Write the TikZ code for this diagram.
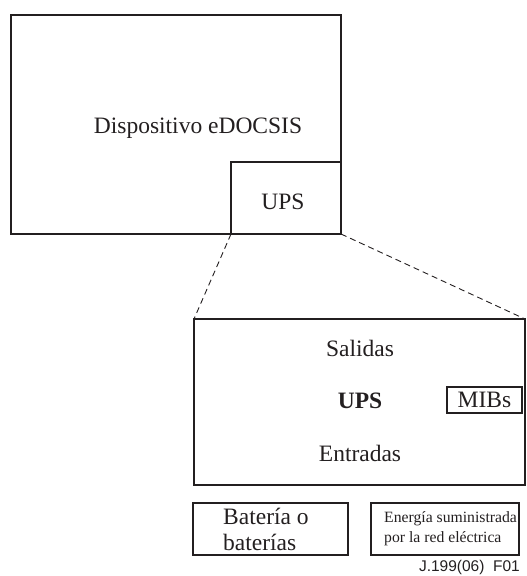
\documentclass[tikz,border=0pt]{standalone}
\usepackage{fontspec}
\setmainfont{Liberation Serif}
\newfontfamily\labfont{Liberation Sans}
\definecolor{ink}{RGB}{35,31,32}
\begin{document}
\begin{tikzpicture}[x=1pt,y=-1pt,
  boxst/.style={draw=ink, line width=2.4pt, rectangle, inner sep=0pt, outer sep=0pt, anchor=north west},
  txt/.style={text=ink, font=\fontsize{23.5}{26}\selectfont, inner sep=0pt},
  small/.style={text=ink, font=\fontsize{15.7}{20}\selectfont, inner sep=0pt, align=left},
  zoomline/.style={draw=ink, line width=0.9pt, dash pattern=on 6pt off 4pt}]
\useasboundingbox (0,0) rectangle (527,576);
\node[boxst, minimum width=330pt, minimum height=219pt] (dev) at (11,15) {};
\node[txt] (devt) at (198,128) {Dispositivo eDOCSIS};
\node[boxst, minimum width=110pt, minimum height=72pt] (upss) at (231,162) {};
\node[txt] (upsst) at (283,202) {UPS};
\node[boxst, minimum width=331pt, minimum height=166pt] (upsb) at (194,319) {};
\node[txt] (sal) at (360,348) {Salidas};
\node[txt, font=\fontsize{23.5}{26}\selectfont\bfseries] (upsbt) at (360,401) {UPS};
\node[txt] (ent) at (360,453) {Entradas};
\node[boxst, minimum width=75pt, minimum height=26pt] (mibs) at (447,387) {};
\node[txt] (mibst) at (484.5,400) {MIBs};
\node[boxst, minimum width=155pt, minimum height=52pt] (bat) at (193,503) {};
\node[txt, align=left, anchor=west] (batt) at (223,529) {Batería o\\baterías};
\node[boxst, minimum width=148pt, minimum height=52pt] (ener) at (371,503) {};
\node[small, anchor=west] (enert) at (384,528.5) {Energía suministrada\\por la red eléctrica};
\node[inner sep=0pt, anchor=east, text=ink, font=\labfont\fontsize{15.5}{18}\selectfont] (ref) at (520,567) {J.199(06)\ \ F01};
\draw[zoomline] (upss.south west) -- (upsb.north west);
\draw[zoomline] (upss.south east) -- (upsb.north east);
\end{tikzpicture}
\end{document}
